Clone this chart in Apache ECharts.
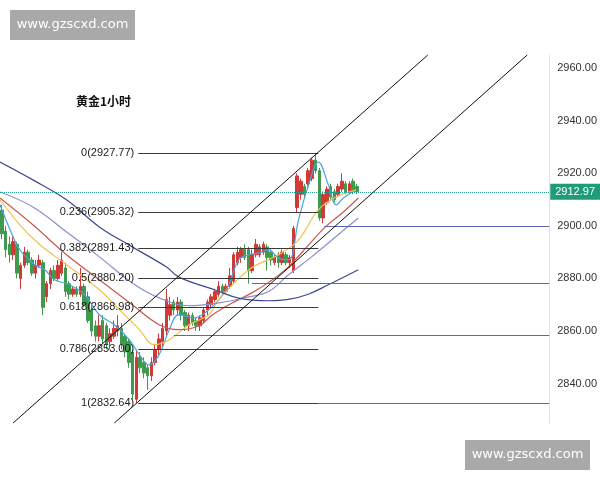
<!DOCTYPE html>
<html><head><meta charset="utf-8">
<script src="https://cdn.jsdelivr.net/npm/echarts@6/dist/echarts.min.js"></script>
<style>html,body{margin:0;padding:0;background:#fff}#c{width:600px;height:480px}</style>
</head><body><div id="c"></div>
<script>
// number of hourly slots on the time axis (candles fill the first part)
const SLOTS = 147;
const title = '黄金1小时';
const watermark = 'www.gzscxd.com';
const lastPrice = 2912.97;

// candles: [open, close, low, high]
const candles = [
 [2906,2897,2895,2908],[2898,2891,2888,2900],[2893,2889,2886,2896],[2889,2894,2887,2896],
 [2893,2882,2880,2894],[2880,2885,2876,2886],[2885,2890,2884,2892],[2890,2886,2885,2891],
 [2887,2882,2881,2888],[2882,2885,2880,2887],[2885,2887,2884,2889],[2886,2869,2866,2887],
 [2873,2878,2871,2879],[2878,2883,2876,2884],[2883,2880,2879,2885],[2880,2885,2879,2887],
 [2882,2887,2881,2890],[2884,2875,2873,2886],[2878,2874,2872,2879],[2874,2876,2873,2877],
 [2876,2874,2873,2877],[2874,2877,2873,2884],[2877,2870,2869,2878],[2873,2864,2863,2875],
 [2868,2860,2858,2870],[2862,2858,2856,2864],[2858,2862,2856,2866],[2864,2857,2855,2866],
 [2862,2855,2853,2863],[2856,2859,2853,2861],[2858,2861,2857,2864],[2860,2862,2858,2866],
 [2861,2855,2853,2863],[2858,2852,2850,2859],[2856,2848,2846,2857],[2852,2836,2834,2853],
 [2834,2850,2832.64,2853],[2850,2846,2844,2852],[2848,2844,2842,2850],[2846,2843,2837.6,2847],
 [2843,2848,2841,2850],[2848,2853,2847,2855],[2853,2857,2851,2859],[2856,2861,2854,2863],
 [2860,2872,2858,2876],[2866,2870,2864,2873],[2871,2868,2866,2872],[2868,2871,2866,2873],
 [2871,2866,2864,2872],[2867,2862,2860,2868],[2862,2866,2860,2867],[2866,2863,2862,2867],
 [2864,2862,2860,2865],[2862,2865,2860,2866],[2864,2868,2863,2869],[2868,2871,2866,2872],
 [2870,2873,2869,2874],[2872,2875,2871,2876],[2874,2877,2873,2879],[2877,2875,2874,2878],
 [2875,2877,2874,2878],[2877,2881,2876,2884],[2879,2889,2878,2890],[2886,2890,2885,2892],
 [2888,2891,2886,2892],[2891,2888,2887,2893],[2891,2883,2878,2892],[2883,2889,2882,2891],
 [2889,2893,2888,2895],[2889,2892,2888,2893],[2890,2893,2889,2894],[2892,2888,2883,2893],
 [2890,2887,2885,2891],[2886,2888,2885,2889],[2889,2886,2884,2890],[2886,2890,2885,2891],
 [2889,2886,2885,2890],[2886,2888,2884,2889],[2883,2899,2882,2900],[2907,2919,2905,2920],
 [2912,2917,2910,2918],[2915,2912,2911,2916],[2916,2921,2915,2922],[2918,2925,2917,2926],
 [2925,2921,2920,2927.77],[2921,2903,2902,2922],[2903,2912,2901,2913],[2909,2914,2908,2915],
 [2915,2911,2910,2916],[2913,2910,2909,2914],[2912,2915,2911,2916],[2914,2917,2913,2920],
 [2916,2913,2912,2917],[2913,2916,2912,2917],[2917,2913,2912,2918],[2915,2912.97,2912,2916]
];

// moving averages: [slot index, price]
const maShort = [[-0.5,2908],[2.2,2898.5],[4.8,2890.9],[8.8,2885.2],[11.5,2883.3],[14.1,2879.5],[18.1,2877.6],[22.1,2873.8],[26.1,2866.2],[30.1,2862.4],[34.1,2856.7],[36.8,2851],[39.4,2847.1],[42.1,2851],[44.8,2860.5],[47.4,2866.2],[51.4,2865],[55.4,2868.1],[58.1,2871.9],[60.75,2877.6],[63.4,2887.1],[66.1,2889],[68.7,2889.7],[71.4,2890.9],[74,2887.8],[76.7,2887.1],[79.4,2902.3],[82.1,2915.6],[84.7,2924.3],[87.4,2915.6],[89.5,2908],[91.4,2910.6],[94.8,2913.7]];
const maYellow = [[-0.5,2909.9],[4.8,2900.4],[10.2,2892.8],[17.3,2885.2],[26.1,2875.7],[31.5,2868.1],[36.8,2860.5],[40.8,2854.8],[44.8,2856.7],[50.1,2862.4],[55.4,2866.2],[58.1,2871.9],[66.1,2883.3],[74,2889],[79.4,2894.7],[84.7,2906.1],[89.5,2911],[94.8,2913.7]];
const maRed = [[-0.5,2910.6],[8.3,2900.4],[17.3,2889],[26.1,2879.5],[34.9,2870],[42.1,2862.4],[47.4,2860.5],[52.8,2862],[56.2,2866],[60.75,2870],[66.9,2874.5],[71.4,2878.5],[76.7,2884.4],[82.1,2892.8],[86.6,2899.6],[91.4,2905.3],[95.4,2910.6]];
const maPurple = [[-0.5,2912.9],[8.3,2907.2],[17.3,2897.7],[26.1,2888.2],[34.9,2878.3],[42.1,2872.6],[50.1,2869.6],[58.1,2870.7],[66.1,2873],[71.4,2875],[76.7,2881.4],[82.9,2888.2],[90,2896.6],[95.4,2903]];
const maNavy = [[-0.5,2924.3],[8.3,2917.5],[17.3,2909.9],[26.1,2899.6],[34.9,2892],[44,2884.4],[47.4,2880.5],[57.3,2875.5],[63.4,2872.5],[71.4,2871.5],[76.7,2872],[82,2874],[87.4,2877.6],[95.4,2883.3]];

// Fibonacci retracement levels
const fibRatios = ['0','0.236','0.382','0.5','0.618','0.786','1'];
const fibPrices = [2927.77,2905.32,2891.43,2880.20,2868.98,2853.00,2832.64];
const fibFrom = 36.5, fibTo = 84.7;

// horizontal support lines: [start slot, price]
const supports = [[86.3,2900],[66.9,2878.3],[46,2858.5],[84.7,2832.64]];

// parallel channel lines: [[slot, price],[slot, price]]
const channels = [
  [[3.0,2825],[114.0,2965]],
  [[30.1,2825],[140.6,2965]]
];

const yTicks = [2840,2860,2880,2900,2920,2940,2960];

const chart = echarts.init(document.getElementById('c'), null, {renderer:'canvas'});
const cats = Array.from({length:SLOTS}, (_,i)=>String(i));

const markData = [];
fibRatios.forEach((r,k)=>{
  markData.push([
    {coord:[fibFrom,fibPrices[k]], lineStyle:{color:'#3a3a3a',width:1.2,type:'solid'},
     label:{show:true,position:'start',formatter:r+'('+fibPrices[k].toFixed(2)+')',color:'#1a1a1a',fontSize:11,distance:4,padding:[0,0,8,0],fontFamily:'Liberation Sans, Arial, sans-serif'}},
    {coord:[fibTo,fibPrices[k]]}
  ]);
});
supports.forEach(s=>{
  markData.push([
    {coord:[s[0],s[1]], lineStyle:{color:'#5a68ad',width:1.2,type:'solid'}, label:{show:false}},
    {coord:[SLOTS-0.5,s[1]]}
  ]);
});
channels.forEach(c=>{
  markData.push([
    {coord:c[0], lineStyle:{color:'#111',width:1,type:'solid'}, label:{show:false}},
    {coord:c[1]}
  ]);
});

function maSeries(data,color,extra){
  return Object.assign({
    type:'line', xAxisIndex:1, yAxisIndex:0, data:data, showSymbol:false, smooth:0.4,
    lineStyle:{color:color,width:1.2}, itemStyle:{color:color}, silent:true, z:3
  }, extra||{});
}

chart.setOption({
  animation:false,
  backgroundColor:'#fff',
  grid:{left:0,right:48,top:55,bottom:57},
  xAxis:[
    {type:'category',data:cats,boundaryGap:true,show:false},
    {type:'value',min:-0.5,max:SLOTS-0.5,show:false}
  ],
  yAxis:{
    type:'value',position:'right',min:2825,max:2965,scale:true,
    axisLine:{show:true,onZero:false,lineStyle:{color:'#e2e2e2'}},
    axisTick:{show:false},
    splitLine:{show:false},
    axisLabel:{customValues:yTicks,formatter:v=>v.toFixed(2),color:'#333',fontSize:11,margin:8,
      fontFamily:'Liberation Sans, Arial, sans-serif'}
  },
  series:[
    {
      type:'candlestick', xAxisIndex:0, yAxisIndex:0, data:candles, barWidth:3, z:2,
      itemStyle:{color:'#d03a36',color0:'#3f9a4e',borderColor:'#d03a36',borderColor0:'#3f9a4e',borderWidth:1},
      markLine:{
        silent:true, symbol:['none','none'],
        data:[{yAxis:lastPrice}],
        lineStyle:{color:'#2a9d8f',type:'dotted',width:1},
        label:{show:true,position:'end',formatter:lastPrice.toFixed(2),color:'#fff',backgroundColor:'#1f9b78',
          padding:[3,5,2,5],fontSize:11,distance:1,fontFamily:'Liberation Sans, Arial, sans-serif'}
      }
    },
    maSeries(maShort,'#4aa3df'),
    maSeries(maYellow,'#f0c24a'),
    maSeries(maRed,'#c9574f'),
    maSeries(maPurple,'#8a8fcf'),
    maSeries(maNavy,'#3b4a90',{
      markLine:{silent:true,symbol:['none','none'],data:markData,animation:false}
    })
  ],
  graphic:[
    {type:'text',left:76,top:95,style:{text:title,fontSize:12,fontWeight:'bold',fill:'#111',
      fontFamily:'Noto Sans CJK SC, sans-serif'}},
    {type:'group',left:10,top:10,children:[
      {type:'rect',shape:{x:0,y:0,width:125,height:30},style:{fill:'#a9a9a9'}},
      {type:'text',x:62.5,y:15,style:{text:watermark,fill:'#fff',fontSize:13,align:'center',verticalAlign:'middle',
        fontFamily:'DejaVu Sans, sans-serif'}}
    ]},
    {type:'group',left:465,top:440,children:[
      {type:'rect',shape:{x:0,y:0,width:125,height:30},style:{fill:'#a9a9a9'}},
      {type:'text',x:62.5,y:15,style:{text:watermark,fill:'#fff',fontSize:13,align:'center',verticalAlign:'middle',
        fontFamily:'DejaVu Sans, sans-serif'}}
    ]}
  ]
});
</script>
</body></html>
